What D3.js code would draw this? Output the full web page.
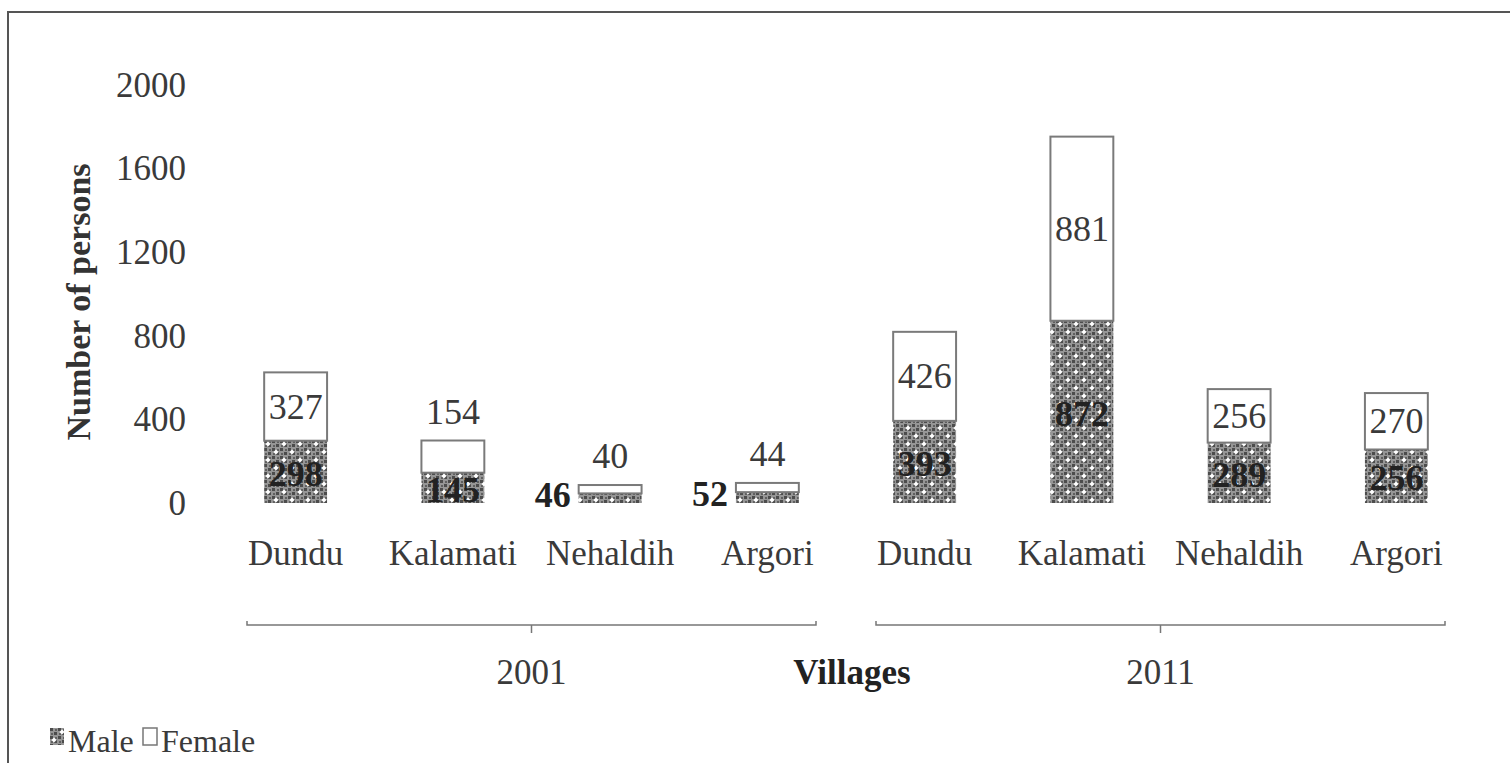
<!DOCTYPE html>
<html>
<head>
<meta charset="utf-8">
<script src="https://cdn.jsdelivr.net/npm/d3@7"></script>
<style>
  html, body { margin: 0; padding: 0; background: #fff; }
  svg { display: block; font-family: "Liberation Serif", "Times New Roman", serif; }
</style>
</head>
<body>
<div class="viz"></div>
<script>
const villages = ['Dundu', 'Kalamati', 'Nehaldih', 'Argori'];
const years = ['2001', '2011'];
const male = [298, 145, 46, 52, 393, 872, 289, 256];
const female = [327, 154, 40, 44, 426, 881, 256, 270];
const yTicks = [0, 400, 800, 1200, 1600, 2000];

const w = 1510;
const h = 763;
const svg = d3.select('.viz').append('svg')
    .attr('width', w)
    .attr('height', h);

// hatch-ish pattern for the male part
const defs = svg.append('defs');
const pat = defs.append('pattern')
    .attr('id', 'maleFill')
    .attr('patternUnits', 'userSpaceOnUse')
    .attr('width', 16)
    .attr('height', 16);
pat.append('rect').attr('width', 16).attr('height', 16).attr('fill', '#969696');
for (let i = 0; i < 4; i += 1) {
    for (let j = 0; j < 4; j += 1) {
        if ((i + j) % 2 === 0) {
            pat.append('rect').attr('x', i * 4).attr('y', j * 4)
                .attr('width', 3).attr('height', 3).attr('fill', '#4c4c4c');
        } else {
            pat.append('rect').attr('x', i * 4 + 1).attr('y', j * 4 + 1)
                .attr('width', 2).attr('height', 2).attr('fill', '#606060');
        }
    }
}
[[4, 4], [12, 12]].forEach(([cx, cy]) => {
    pat.append('path')
        .attr('d', `M${cx},${cy - 2.5}L${cx + 2.5},${cy}L${cx},${cy + 2.5}L${cx - 2.5},${cy}Z`)
        .attr('fill', '#fff');
});

// frame of the scanned figure
svg.append('rect')
    .attr('x', 8).attr('y', 12)
    .attr('width', w + 20).attr('height', h + 20)
    .attr('fill', 'none')
    .attr('stroke', '#555')
    .attr('stroke-width', 2);

const rows = [];
years.forEach((yr, gi) => {
    villages.forEach((v, vi) => {
        const k = gi * villages.length + vi;
        rows.push({ key: yr + '-' + v, village: v, year: yr, male: male[k], female: female[k] });
    });
});

const x = d3.scaleBand()
    .domain(rows.map(d => d.key))
    .range([217, 1475])
    .paddingInner(0.6)
    .paddingOuter(0.3);
const y = d3.scaleLinear().domain([0, 2000]).range([503, 85]);

const textCol = '#3a3a3a';

// y axis labels only
const yAxis = svg.append('g')
    .attr('transform', 'translate(186,0)')
    .call(d3.axisLeft(y).tickValues(yTicks).tickFormat(d3.format('d')).tickSize(0).tickPadding(0));
yAxis.select('.domain').remove();
yAxis.selectAll('text')
    .attr('fill', textCol)
    .style('font-size', '35px')
    .style('font-family', '"Liberation Serif", serif');

svg.append('text')
    .attr('transform', `translate(90,${(y(0) + y(2000)) / 2 + 8}) rotate(-90)`)
    .attr('text-anchor', 'middle')
    .attr('fill', '#333')
    .style('font-size', '34px')
    .style('font-weight', 'bold')
    .text('Number of persons');

// stacked bars
const stack = d3.stack().keys(['male', 'female'])(rows);
const bars = svg.append('g');
bars.selectAll('rect.m')
    .data(stack[0])
    .join('rect')
    .attr('class', 'm')
    .attr('x', d => x(d.data.key))
    .attr('width', x.bandwidth())
    .attr('y', d => y(d[1]))
    .attr('height', d => y(d[0]) - y(d[1]))
    .attr('fill', 'url(#maleFill)');
bars.selectAll('rect.f')
    .data(stack[1])
    .join('rect')
    .attr('class', 'f')
    .attr('x', d => x(d.data.key))
    .attr('width', x.bandwidth())
    .attr('y', d => y(d[1]))
    .attr('height', d => y(d[0]) - y(d[1]))
    .attr('fill', '#fff')
    .attr('stroke', '#7a7a7a')
    .attr('stroke-width', 2);

// value labels
const labels = svg.append('g').style('font-size', '36px');
labels.selectAll('text.fl')
    .data(stack[1])
    .join('text')
    .attr('class', 'fl')
    .attr('text-anchor', 'middle')
    .attr('fill', textCol)
    .attr('x', d => x(d.data.key) + x.bandwidth() / 2)
    .attr('y', d => {
        const hgt = y(d[0]) - y(d[1]);
        return hgt > 40 ? (y(d[0]) + y(d[1])) / 2 + 12 : y(d[1]) - 17;
    })
    .text(d => d.data.female);
labels.selectAll('text.ml')
    .data(stack[0])
    .join('text')
    .attr('class', 'ml')
    .attr('fill', '#222')
    .style('font-weight', 'bold')
    .attr('text-anchor', d => (y(d[0]) - y(d[1]) > 25 ? 'middle' : 'end'))
    .attr('x', d => (y(d[0]) - y(d[1]) > 25 ? x(d.data.key) + x.bandwidth() / 2 : x(d.data.key) - 8))
    .attr('y', d => (y(d[0]) - y(d[1]) > 25 ? (y(d[0]) + y(d[1])) / 2 + 14 : y(d[1]) + 14))
    .text(d => d.data.male);

// category labels
svg.append('g').selectAll('text')
    .data(rows)
    .join('text')
    .attr('text-anchor', 'middle')
    .attr('fill', textCol)
    .style('font-size', '35px')
    .attr('x', d => x(d.key) + x.bandwidth() / 2)
    .attr('y', 565)
    .text(d => d.village);

// year group brackets
const step = x.step();
const groupY = 625;
years.forEach((yr, gi) => {
    const first = rows[gi * villages.length].key;
    const last = rows[gi * villages.length + villages.length - 1].key;
    const x0 = x(first) - step * x.paddingInner() / 2 + 30;
    const x1 = x(last) + x.bandwidth() + step * x.paddingInner() / 2 - 30;
    const mid = (x0 + x1) / 2;
    svg.append('path')
        .attr('d', `M${x0},${groupY - 4}L${x0},${groupY}L${x1},${groupY}L${x1},${groupY - 4}M${mid},${groupY}L${mid},${groupY + 8}`)
        .attr('fill', 'none')
        .attr('stroke', '#777')
        .attr('stroke-width', 1.5);
    svg.append('text')
        .attr('text-anchor', 'middle')
        .attr('fill', textCol)
        .style('font-size', '35px')
        .attr('x', mid)
        .attr('y', 684)
        .text(yr);
});

svg.append('text')
    .attr('text-anchor', 'middle')
    .attr('fill', '#222')
    .style('font-size', '35px')
    .style('font-weight', 'bold')
    .attr('x', (x.range()[0] + x.range()[1]) / 2 + 6)
    .attr('y', 684)
    .text('Villages');

// legend
const legend = svg.append('g').attr('transform', 'translate(50,752)');
const legendItems = [
    { name: 'Male', fill: 'url(#maleFill)', stroke: 'none', dx: 0 },
    { name: 'Female', fill: '#fff', stroke: '#777', dx: 93 }
];
legendItems.forEach(it => {
    legend.append('rect')
        .attr('x', it.dx).attr('y', -24)
        .attr('width', 14).attr('height', 17)
        .attr('fill', it.fill)
        .attr('stroke', it.stroke)
        .attr('stroke-width', 1.5);
    legend.append('text')
        .attr('x', it.dx + 18)
        .attr('y', 0)
        .attr('fill', textCol)
        .style('font-size', '32px')
        .text(it.name);
});
</script>
</body>
</html>
